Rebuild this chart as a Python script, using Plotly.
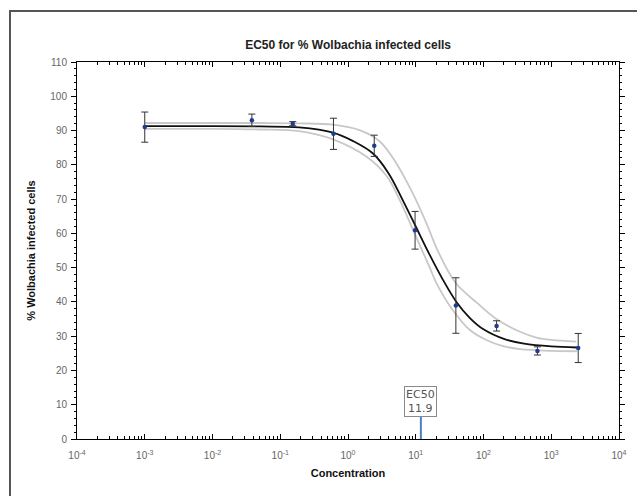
import math
import plotly.graph_objects as go

# ---- data ----
conc = [0.001, 0.0381, 0.153, 0.61, 2.44, 9.77, 39.1, 156, 625, 2500]
pct_infected = [91.0, 93.0, 92.0, 89.05, 85.55, 60.9, 38.95, 33.0, 25.7, 26.55]
err = [4.4, 1.8, 0.6, 4.55, 3.1, 5.5, 8.1, 1.5, 1.2, 4.25]

fit_x = [0.001, 0.01, 0.05, 0.19, 0.6, 1.17, 2.34, 3.98, 6.31, 10, 15.8, 25.1,
         39.8, 63.1, 100, 200, 398, 1000, 2400]
fit_y = [91.3, 91.3, 91.2, 90.9, 89.4, 87.0, 83.3, 77.5, 70.0, 62.0, 54.0, 46.5,
         40.0, 35.3, 32.0, 29.2, 27.8, 27.0, 26.7]

upper_x = [0.001, 0.01, 0.05, 0.19, 0.6, 1.48, 2.95, 5.19, 9.12, 14.4, 21.6, 38.9,
           79.4, 155, 347, 603, 1000, 2340]
upper_y = [92.2, 92.2, 92.2, 92.1, 91.7, 90.1, 86.8, 80.4, 71.5, 62.9, 54.5, 45.5,
           39.8, 35.0, 31.3, 29.6, 28.9, 28.4]

lower_x = [0.001, 0.01, 0.05, 0.19, 0.6, 1.86, 3.69, 5.81, 9.12, 11.5, 16.1, 20.2,
           35.5, 63.1, 110, 195, 347, 1070, 2400]
lower_y = [90.5, 90.5, 90.3, 89.8, 87.4, 82.4, 76.8, 69.7, 61.0, 56.5, 50.0, 45.5,
           37.5, 31.8, 28.9, 27.1, 26.2, 25.7, 25.6]

ec50 = 11.9
ec50_marker_top = 6.5

decades = [1e-4, 1e-3, 1e-2, 1e-1, 1e0, 1e1, 1e2, 1e3, 1e4]
decade_labels = ["10<sup>-4</sup>", "10<sup>-3</sup>", "10<sup>-2</sup>", "10<sup>-1</sup>",
                 "10<sup>0</sup>", "10<sup>1</sup>", "10<sup>2</sup>", "10<sup>3</sup>",
                 "10<sup>4</sup>"]
minor_vals = [k * d for d in decades[:-1] for k in range(2, 10)]

fig = go.Figure()

fig.add_trace(go.Scatter(x=upper_x, y=upper_y, mode="lines",
                         line=dict(color="#c8c8c8", width=1.8, shape="spline"),
                         hoverinfo="skip", showlegend=False))
fig.add_trace(go.Scatter(x=lower_x, y=lower_y, mode="lines",
                         line=dict(color="#c8c8c8", width=1.8, shape="spline"),
                         hoverinfo="skip", showlegend=False))
fig.add_trace(go.Scatter(x=fit_x, y=fit_y, mode="lines",
                         line=dict(color="#111111", width=1.8, shape="spline"),
                         showlegend=False))
fig.add_trace(go.Scatter(x=conc, y=pct_infected, mode="markers",
                         marker=dict(color="#1c3d8c", size=4.5),
                         error_y=dict(type="data", array=err, visible=True, color="#333333",
                                      thickness=1, width=3.5),
                         showlegend=False))
fig.add_trace(go.Scatter(x=[ec50, ec50], y=[0, ec50_marker_top], mode="lines",
                         line=dict(color="#4a80c4", width=2), showlegend=False))

fig.add_annotation(x=math.log10(ec50), y=ec50_marker_top, xref="x", yref="y", showarrow=False,
                   text="EC50<br>" + str(ec50), yanchor="bottom", xanchor="center",
                   font=dict(family="DejaVu Sans", size=11, color="#555555"),
                   bordercolor="#8a8a8a", borderwidth=1, borderpad=1, bgcolor="white")

axis_font = dict(family="Liberation Sans", size=10, color="#666666")
title_font = dict(family="Liberation Sans", size=11, color="#111111")

fig.update_layout(
    width=637, height=496,
    margin=dict(l=77, r=18, t=62, b=57),
    paper_bgcolor="white", plot_bgcolor="white",
    title=dict(text="<b>EC50 for % Wolbachia infected cells</b>", x=0.5465, xanchor="center",
               y=1 - 45 / 496, yanchor="middle", yref="container",
               font=dict(family="Liberation Sans", size=12, color="#222222")),
    xaxis=dict(type="log", range=[-4, 4], showline=True, linecolor="black", linewidth=1,
               mirror="ticks", ticks="inside", ticklen=5, tickcolor="black",
               tickmode="array", tickvals=decades, ticktext=decade_labels,
               tickfont=axis_font, showgrid=False, zeroline=False, ticklabelstandoff=7,
               automargin=False,
               minor=dict(tickmode="array", tickvals=minor_vals, ticks="inside", ticklen=3,
                          tickcolor="black", showgrid=False),
               title=dict(text="<b>Concentration</b>", font=title_font, standoff=9)),
    xaxis2=dict(type="log", range=[-4, 4], overlaying="x", anchor="y", showline=False,
                mirror="ticks", ticks="outside", ticklen=0, tickcolor="black",
                tickmode="array", tickvals=decades, showticklabels=False, showgrid=False,
                zeroline=False,
                minor=dict(tickmode="array", tickvals=minor_vals, ticks="outside", ticklen=2,
                           tickcolor="black", showgrid=False)),
    yaxis=dict(range=[0, 110], showline=True, linecolor="black", linewidth=1,
               mirror="ticks", ticks="outside", ticklen=5, tickcolor="black",
               dtick=10, tick0=0, tickfont=axis_font, showgrid=False, zeroline=False,
               ticklabelstandoff=2, automargin=False,
               minor=dict(dtick=2, ticks="outside", ticklen=2, tickcolor="black", showgrid=False),
               title=dict(text="<b>% Wolbachia infected cells</b>", font=title_font, standoff=12)),
    yaxis2=dict(range=[0, 110], overlaying="y", anchor="x", side="left", showline=False,
                mirror="ticks", ticks="inside", ticklen=2, tickcolor="black",
                dtick=10, tick0=0, showticklabels=False, showgrid=False, zeroline=False,
                minor=dict(dtick=2, ticks="inside", ticklen=2, tickcolor="black", showgrid=False)),
    shapes=[dict(type="rect", xref="paper", yref="paper",
                 x0=(10 - 77) / 542, x1=1.3, y0=-0.4, y1=(439 - 11) / 377,
                 line=dict(color="#555555", width=2), fillcolor="rgba(0,0,0,0)", layer="below")],
)

fig.write_html("out.html", config={"displayModeBar": False},
               post_script="document.body.style.margin='0px';document.body.style.overflow='hidden';")
